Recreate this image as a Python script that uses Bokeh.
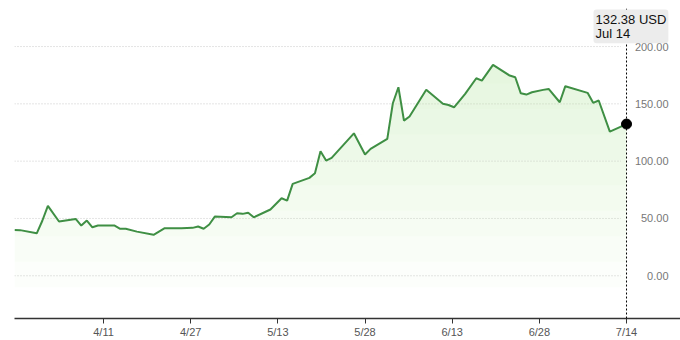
import numpy as np
import pandas as pd
from bokeh.plotting import figure
from bokeh.models import Range1d, FixedTicker, Span, Label
from bokeh.core.properties import value
from bokeh.embed import file_html
from bokeh.resources import INLINE

# ---- data ----
dates = ["2020-03-26", "2020-03-27", "2020-03-30", "2020-03-31", "2020-04-01", "2020-04-03",
         "2020-04-06", "2020-04-07", "2020-04-08", "2020-04-09", "2020-04-10", "2020-04-13",
         "2020-04-14", "2020-04-15", "2020-04-17", "2020-04-20", "2020-04-22", "2020-04-25",
         "2020-04-27", "2020-04-28", "2020-04-29", "2020-04-30", "2020-05-01", "2020-05-04",
         "2020-05-05", "2020-05-06", "2020-05-07", "2020-05-08", "2020-05-11", "2020-05-13",
         "2020-05-14", "2020-05-15", "2020-05-18", "2020-05-19", "2020-05-20", "2020-05-21",
         "2020-05-22", "2020-05-26", "2020-05-28", "2020-05-29", "2020-06-01", "2020-06-02",
         "2020-06-03", "2020-06-04", "2020-06-05", "2020-06-08", "2020-06-11", "2020-06-12",
         "2020-06-13", "2020-06-15", "2020-06-17", "2020-06-18", "2020-06-20", "2020-06-23",
         "2020-06-24", "2020-06-25", "2020-06-26", "2020-06-27", "2020-06-29", "2020-06-30",
         "2020-07-02", "2020-07-03", "2020-07-07", "2020-07-08", "2020-07-09", "2020-07-11",
         "2020-07-14"]
prices = [40.0, 39.8, 37.0, 48.0, 61.0, 47.3,
          49.6, 43.8, 48.2, 42.3, 43.8, 43.8,
          41.0, 41.0, 38.5, 35.7, 41.5, 41.5,
          41.8, 43.0, 41.0, 44.7, 51.6, 51.0,
          54.5, 54.0, 55.0, 51.0, 57.8, 67.6,
          65.6, 80.2, 85.4, 89.4, 108.6, 100.5,
          102.9, 124.3, 105.8, 110.7, 119.5, 150.5,
          164.5, 135.4, 139.0, 162.3, 150.0, 149.0,
          147.0, 158.7, 172.3, 170.3, 184.0, 174.7,
          173.2, 159.2, 158.1, 160.1, 162.2, 163.0,
          151.4, 165.4, 159.6, 150.9, 152.9, 125.8,
          132.38]
x_tick_labels = ["4/11", "4/27", "5/13", "5/28", "6/13", "6/28", "7/14"]
x_tick_first = "2020-04-11"
x_tick_last = "2020-07-14"
y_ticks = [0, 50, 100, 150, 200]
y_tick_labels = ["0.00", "50.00", "100.00", "150.00", "200.00"]
currency = "USD"

# ---- derived ----
DAY = 86400000
d = pd.to_datetime(dates)
x = np.array(d.astype("int64") // 10**6, dtype=float)
y = np.array(prices, dtype=float)
t0 = pd.Timestamp(x_tick_first).value // 10**6
t1 = pd.Timestamp(x_tick_last).value // 10**6
n = len(x_tick_labels)
tick_pos = [int(round(t0 + i * (t1 - t0) / (n - 1))) for i in range(n)]

GREEN = "#3f8f44"
FONT = "Liberation Sans"

p = figure(frame_width=666, frame_height=310,
           x_range=Range1d(x[0], x[-1] + 9.7 * DAY),
           y_range=Range1d(-37.3, 233.2),
           output_backend="svg", toolbar_location=None,
           min_border_left=14, min_border_right=0, min_border_top=8, min_border_bottom=0)
p.xgrid.visible = False
p.ygrid.visible = False
p.yaxis.visible = False
p.outline_line_color = None
p.background_fill_color = "white"
p.border_fill_color = "white"

# dotted horizontal grid lines
p.segment(x0=[x[0]] * len(y_ticks), y0=y_ticks, x1=[x[-1] - DAY] * len(y_ticks), y1=y_ticks,
          line_color="#c9c9c9", line_width=1, line_dash="1 2")

# gradient-like area fill
levels = np.linspace(-10, 190, 10)
for lev in levels:
    p.varea(x=x, y1=np.full_like(y, lev), y2=np.maximum(y, lev),
            fill_color="#c2e6b8", fill_alpha=0.05)

p.line(x, y, line_color=GREEN, line_width=2)

# vertical marker line at last date
p.add_layout(Span(location=x[-1], dimension="height", line_color="black",
                  line_width=1, line_dash="2 2"))
p.scatter([x[-1]], [y[-1]], size=10, color="black")

# y labels on the right
p.text(x=[x[-1]] * len(y_ticks), y=y_ticks, text=y_tick_labels, x_offset=42,
       text_align="right", text_baseline="middle", text_font_size="11px",
       text_color="#777777", text_font=value(FONT))

# tooltip box
last_date = d[-1]
tip = Label(x=x[-1], y=233.2, x_offset=-33, y_offset=-1,
            text=f"{y[-1]:.2f} {currency}\n{last_date.strftime('%b')} {last_date.day}",
            text_align="left", text_baseline="top", text_font_size="13px",
            text_font=FONT, text_color="#111111", text_line_height=0.98,
            background_fill_color="#ececec", padding=2, border_radius=3)
p.add_layout(tip)

# x axis
p.xaxis.ticker = FixedTicker(ticks=tick_pos)
p.xaxis.major_label_overrides = {t: lab for t, lab in zip(tick_pos, x_tick_labels)}
p.xaxis.axis_line_color = "#333333"
p.xaxis.axis_line_width = 1.5
p.xaxis.major_tick_line_color = "#333333"
p.xaxis.major_tick_out = 5
p.xaxis.major_tick_in = 0
p.xaxis.minor_tick_line_color = None
p.xaxis.major_label_standoff = 2
p.xaxis.major_label_text_font = FONT
p.xaxis.major_label_text_font_size = "11px"
p.xaxis.major_label_text_color = "#555555"

open("out.html", "w").write(file_html(p, INLINE))
